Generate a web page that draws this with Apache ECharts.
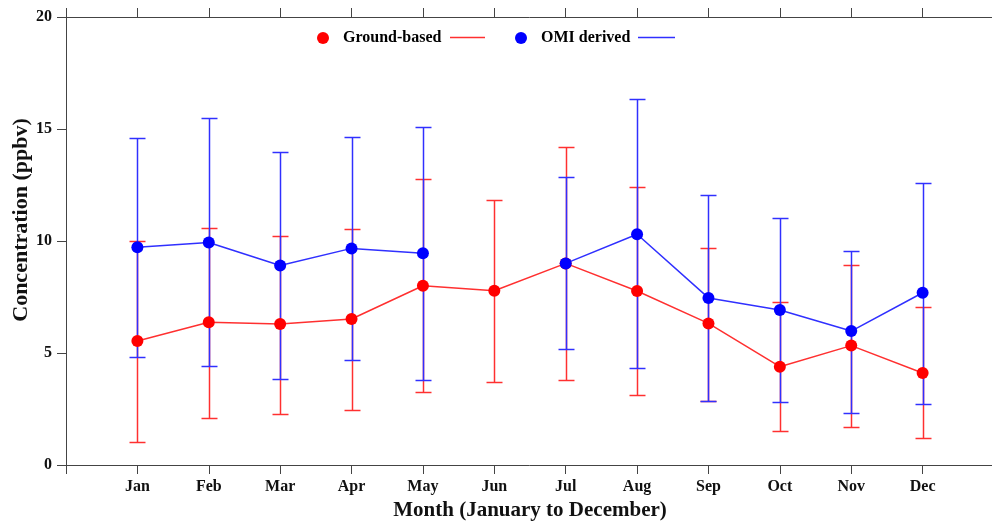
<!DOCTYPE html>
<html><head><meta charset="utf-8">
<script src="https://cdn.jsdelivr.net/npm/echarts@6/dist/echarts.min.js"></script>
<style>html,body{margin:0;padding:0;background:#fff}#c{width:992px;height:522px}</style>
</head><body><div id="c"></div>
<script>
const months = ['Jan','Feb','Mar','Apr','May','Jun','Jul','Aug','Sep','Oct','Nov','Dec'];
const yTicks = [0,5,10,15,20];
// Ground-based (mean, lower, upper)
const groundMean  = [5.54, 6.37, 6.29, 6.52, 8.00, 7.78, 9.00, 7.77, 6.32, 4.39, 5.33, 4.11];
const groundLow   = [1.03, 2.08, 2.26, 2.44, 3.24, 3.72, 3.79, 3.13, 2.87, 1.50, 1.71, 1.19];
const groundHigh  = [10.01,10.60,10.24,10.52,12.77,11.85,14.20,12.41,9.70, 7.29, 8.91, 7.07];
// OMI derived (null = no data)
const omiMean = [9.72, 9.93, 8.91, 9.67, 9.45, null, 9.00, 10.30, 7.46, 6.92, 5.98, 7.69];
const omiLow  = [4.82, 4.42, 3.84, 4.67, 3.79, null, 5.18, 4.32, 2.86, 2.80, 2.32, 2.72];
const omiHigh = [14.58,15.49,13.99,14.63,15.09,null, 12.87,16.35,12.04,11.03,9.54, 12.60];

const RED_LINE = '#ff3030', BLUE_LINE = '#3030ff';
const FONT = 'Liberation Serif';
const LW = 1.5;

function lineData(vals){ return vals.map((v,i)=>[i+1, v==null?'-':v]); }
function errData(lo,hi){ const out=[]; lo.forEach((l,i)=>{ if(l!=null && hi[i]!=null) out.push([i+1,l,hi[i]]); }); return out; }
function errRender(color){
  return function(params, api){
    const x = api.value(0);
    const pLo = api.coord([x, api.value(1)]);
    const pHi = api.coord([x, api.value(2)]);
    const cx = Math.round(pLo[0]) + 0.5;
    const yLo = Math.round(pLo[1]) + 0.5, yHi = Math.round(pHi[1]) + 0.5;
    const w = 8;
    const st = {stroke: color, lineWidth: LW};
    return {type:'group', children:[
      {type:'line', shape:{x1:cx,y1:yLo,x2:cx,y2:yHi}, style:st},
      {type:'line', shape:{x1:cx-w,y1:yLo,x2:cx+w,y2:yLo}, style:st},
      {type:'line', shape:{x1:cx-w,y1:yHi,x2:cx+w,y2:yHi}, style:st}
    ]};
  };
}

const chart = echarts.init(document.getElementById('c'), null, {renderer:'canvas'});
const axisLine = {show:true, lineStyle:{color:'#444', width:1}};
chart.setOption({
  animation:false,
  backgroundColor:'#fff',
  grid:{left:66, right:-2, top:17, bottom:57, containLabel:false, outerBoundsMode:'none'},
  legend:[
    {left:312, top:25, data:['Ground-based'], icon:'circle', itemWidth:12, itemHeight:12,
     textStyle:{fontFamily:FONT, fontWeight:'bold', fontSize:16, color:'#000', padding:[0,0,0,9]}},
    {left:510, top:25, data:['OMI derived'], icon:'circle', itemWidth:12, itemHeight:12,
     textStyle:{fontFamily:FONT, fontWeight:'bold', fontSize:16, color:'#000', padding:[0,0,0,9]}}
  ],
  graphic:[
    {type:'line', shape:{x1:450,y1:37.5,x2:485,y2:37.5}, style:{stroke:RED_LINE, lineWidth:LW}},
    {type:'line', shape:{x1:638,y1:37.5,x2:675,y2:37.5}, style:{stroke:BLUE_LINE, lineWidth:LW}}
  ],
  xAxis:[
    {type:'value', position:'bottom', min:0, max:13, interval:1,
     axisLine:axisLine, axisTick:{show:true, length:9, lineStyle:{color:'#444'}},
     splitLine:{show:false},
     axisLabel:{margin:14, fontFamily:FONT, fontWeight:'bold', fontSize:16, color:'#111',
       formatter:v=> (v>=1 && v<=12) ? months[v-1] : ''},
     name:'Month (January to December)', nameLocation:'middle', nameGap:34,
     nameTextStyle:{fontFamily:FONT, fontWeight:'bold', fontSize:21, color:'#111'}},
    {type:'value', position:'top', min:0, max:13, interval:1,
     axisLine:axisLine, axisTick:{show:true, length:9, lineStyle:{color:'#444'}},
     axisLabel:{show:false}, splitLine:{show:false}}
  ],
  yAxis:{type:'value', min:yTicks[0], max:yTicks[yTicks.length-1], interval:5,
    axisLine:axisLine, axisTick:{show:true, length:9, lineStyle:{color:'#444'}},
    splitLine:{show:false},
    axisLabel:{margin:14, fontFamily:FONT, fontWeight:'bold', fontSize:16, color:'#111'},
    name:'Concentration (ppbv)', nameLocation:'middle', nameGap:34, nameRotate:90, nameMoveOverlap:false,
    nameTextStyle:{fontFamily:FONT, fontWeight:'bold', fontSize:22, color:'#111', padding:[0,0,0,42]}},
  series:[
    {type:'custom', name:'gErr', renderItem:errRender(RED_LINE), data:errData(groundLow,groundHigh), z:2, silent:true},
    {type:'custom', name:'oErr', renderItem:errRender(BLUE_LINE), data:errData(omiLow,omiHigh), z:3, silent:true},
    {type:'line', name:'Ground-based', data:lineData(groundMean), symbol:'circle', symbolSize:12,
     itemStyle:{color:'#ff0000'}, lineStyle:{color:RED_LINE, width:LW}, z:4},
    {type:'line', name:'OMI derived', data:lineData(omiMean), symbol:'circle', symbolSize:12, connectNulls:false,
     itemStyle:{color:'#0000ff'}, lineStyle:{color:BLUE_LINE, width:LW}, z:5}
  ]
});
</script></body></html>
